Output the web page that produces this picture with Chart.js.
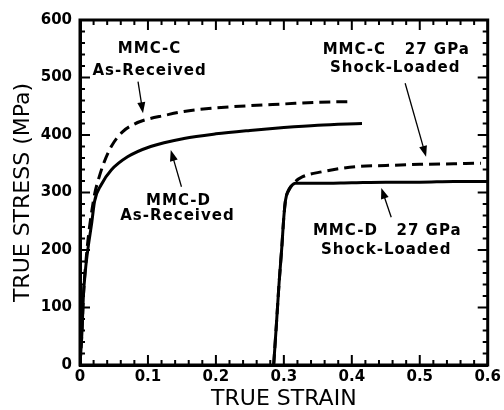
<!DOCTYPE html>
<html>
<head>
<meta charset="utf-8">
<script src="https://cdn.jsdelivr.net/npm/chart.js@4.4.1/dist/chart.umd.min.js"></script>
<style>
body { margin: 0; background: #fff; }
</style>
</head>
<body>
<canvas id="myChart" width="504" height="410"></canvas>
<script>
// MMC-C as-received (dashed)
var strainCAs = [0, 0.003, 0.005, 0.008, 0.012, 0.017, 0.022, 0.026, 0.034, 0.046, 0.063, 0.08, 0.095, 0.124, 0.153, 0.2, 0.25, 0.3, 0.35, 0.395];
var stressCAs = [0, 60, 120, 170, 220, 265, 300, 318, 348, 380, 406, 419, 426, 434, 441, 447, 451, 454, 457, 458];
// MMC-D as-received (solid)
var strainDAs = [0, 0.003, 0.005, 0.008, 0.012, 0.017, 0.0215, 0.031, 0.046, 0.07, 0.104, 0.153, 0.2, 0.25, 0.3, 0.35, 0.415];
var stressDAs = [0, 60, 120, 165, 205, 245, 285, 313, 339, 362, 380, 394, 402, 408, 413, 417, 420];
// MMC-C 27 GPa shock-loaded (dashed)
var strainCShock = [0.285, 0.289, 0.293, 0.297, 0.3, 0.3025, 0.308, 0.316, 0.327, 0.356, 0.405, 0.45, 0.5, 0.55, 0.59];
var stressCShock = [0, 70, 143, 205, 258, 287, 305, 318, 327, 336, 345, 347, 349, 350, 351];
// MMC-D 27 GPa shock-loaded (solid)
var strainDShock = [0.285, 0.289, 0.293, 0.297, 0.3, 0.3025, 0.306, 0.31, 0.317, 0.35, 0.4, 0.45, 0.5, 0.55, 0.6];
var stressDShock = [0, 70, 143, 205, 258, 287, 302, 310, 316, 316, 317, 318, 318, 319, 319];

var notes = [
    { text: 'MMC-C', x: 0.1024, y: 549 },
    { text: 'As-Received', x: 0.1024, y: 511 },
    { text: 'MMC-D', x: 0.1449, y: 285 },
    { text: 'As-Received', x: 0.1434, y: 259 },
    { text: 'MMC-C   27 GPa', x: 0.4654, y: 548 },
    { text: 'Shock-Loaded', x: 0.4639, y: 516 },
    { text: 'MMC-D   27 GPa', x: 0.4522, y: 233 },
    { text: 'Shock-Loaded', x: 0.4507, y: 200 }
];
var arrows = [
    { from: [0.0854, 493], to: [0.0927, 438] },
    { from: [0.1493, 310], to: [0.1336, 374] },
    { from: [0.4785, 490], to: [0.5093, 362] },
    { from: [0.458, 257], to: [0.4434, 308] }
];

function pts(xs, ys) {
    return xs.map(function (x, i) { return { x: x, y: ys[i] }; });
}
function curve(xs, ys, dashed) {
    return {
        data: pts(xs, ys),
        borderColor: '#000',
        borderWidth: 3,
        borderDash: dashed ? [11, 6] : [],
        pointRadius: 0,
        fill: false,
        cubicInterpolationMode: 'monotone'
    };
}

/* frame, inward ticks, labels and arrows */
var extras = {
    id: 'extras',
    afterDraw: function (chart) {
        var c = chart.ctx, a = chart.chartArea;
        var xs = chart.scales.x, ys = chart.scales.y;
        c.save();
        c.strokeStyle = '#000';
        c.lineWidth = 2;
        for (var i = 0; i <= 30; i++) {
            var px = xs.getPixelForValue(i * 0.02);
            var len = i % 5 === 0 ? 10 : 5;
            c.beginPath();
            c.moveTo(px, a.bottom); c.lineTo(px, a.bottom - len);
            c.moveTo(px, a.top); c.lineTo(px, a.top + len);
            c.stroke();
        }
        for (var j = 0; j <= 30; j++) {
            var py = ys.getPixelForValue(j * 20);
            var l2 = j % 5 === 0 ? 10 : 5;
            c.beginPath();
            c.moveTo(a.left, py); c.lineTo(a.left + l2, py);
            c.moveTo(a.right, py); c.lineTo(a.right - l2, py);
            c.stroke();
        }
        c.lineWidth = 3;
        c.strokeRect(a.left, a.top, a.right - a.left, a.bottom - a.top);

        c.fillStyle = '#000';
        c.font = 'bold 15px "DejaVu Sans"';
        c.letterSpacing = '1px';
        c.textAlign = 'center';
        c.textBaseline = 'middle';
        notes.forEach(function (n) {
            c.fillText(n.text, xs.getPixelForValue(n.x), ys.getPixelForValue(n.y));
        });

        c.lineWidth = 1.3;
        arrows.forEach(function (ar) {
            var x1 = xs.getPixelForValue(ar.from[0]), y1 = ys.getPixelForValue(ar.from[1]);
            var x2 = xs.getPixelForValue(ar.to[0]), y2 = ys.getPixelForValue(ar.to[1]);
            var ang = Math.atan2(y2 - y1, x2 - x1);
            c.beginPath();
            c.moveTo(x1, y1); c.lineTo(x2 - 8 * Math.cos(ang), y2 - 8 * Math.sin(ang));
            c.stroke();
            c.beginPath();
            c.moveTo(x2, y2);
            c.lineTo(x2 - 11 * Math.cos(ang) + 4 * Math.sin(ang), y2 - 11 * Math.sin(ang) - 4 * Math.cos(ang));
            c.lineTo(x2 - 11 * Math.cos(ang) - 4 * Math.sin(ang), y2 - 11 * Math.sin(ang) + 4 * Math.cos(ang));
            c.closePath();
            c.fill();
        });
        c.restore();
    }
};

var ctx = document.getElementById('myChart').getContext('2d');
var myChart = new Chart(ctx, {
    type: 'line',
    data: {
        datasets: [
            curve(strainCAs, stressCAs, true),
            curve(strainDAs, stressDAs, false),
            curve(strainCShock, stressCShock, true),
            curve(strainDShock, stressDShock, false)
        ]
    },
    options: {
        responsive: false,
        animation: false,
        layout: { padding: { left: 0, right: 14, top: 20, bottom: 0 } },
        plugins: { legend: { display: false }, tooltip: { enabled: false } },
        scales: {
            x: {
                type: 'linear',
                min: 0,
                max: 0.6,
                ticks: { stepSize: 0.1, color: '#000', padding: 3, font: { family: 'DejaVu Sans', size: 15, weight: 'bold' } },
                grid: { display: false, drawTicks: false },
                border: { color: '#000', width: 3 },
                title: { display: true, text: 'TRUE STRAIN', color: '#000', padding: { top: 0, bottom: 0 },
                    font: { family: 'DejaVu Sans', size: 22, lineHeight: 1 } },
                afterFit: function (s) { s.height = 45; }
            },
            y: {
                min: 0,
                max: 600,
                ticks: { stepSize: 100, color: '#000', padding: 8, font: { family: 'DejaVu Sans', size: 15, weight: 'bold' } },
                grid: { display: false, drawTicks: false },
                border: { color: '#000', width: 3 },
                title: { display: true, text: 'TRUE STRESS (MPa)', color: '#000', padding: { top: 12, bottom: 0 },
                    font: { family: 'DejaVu Sans', size: 22, lineHeight: 1 } },
                afterFit: function (s) { s.width = 80; }
            }
        }
    },
    plugins: [extras]
});
</script>
</body>
</html>
